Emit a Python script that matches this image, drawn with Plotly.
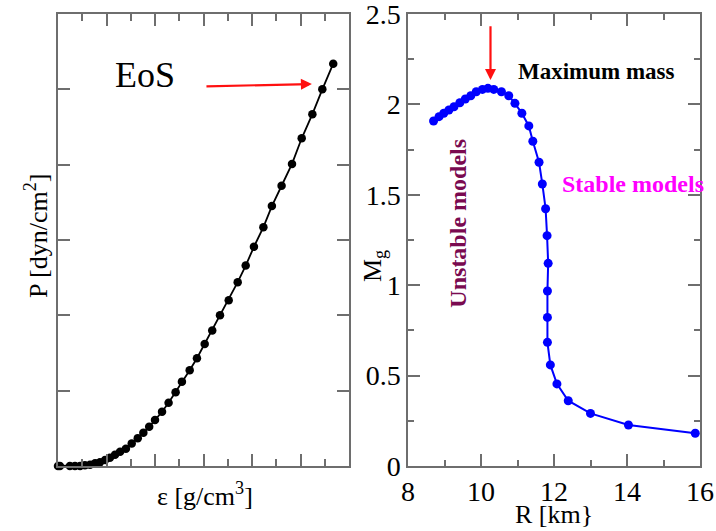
import plotly.graph_objects as go

# Equation of state (arbitrary linear units on both axes)
eos_eps = [0.0, 0.08, 0.49, 0.70, 0.91, 1.11, 1.32, 1.53, 1.73, 1.94, 2.14, 2.35,
           2.56, 2.80, 3.04, 3.29, 3.52, 3.76, 4.00, 4.29, 4.56, 4.85, 5.11, 5.43,
           5.73, 6.05, 6.36, 6.68, 7.04, 7.41, 7.74, 8.08, 8.47, 8.82, 9.22, 9.65,
           10.05, 10.49, 10.90, 11.35]
eos_p = [0.0, 0.0, 0.0, 0.0, 0.0, 0.01, 0.017, 0.036, 0.05, 0.08, 0.11, 0.15,
         0.19, 0.23, 0.30, 0.37, 0.44, 0.52, 0.61, 0.72, 0.84, 0.98, 1.12, 1.27,
         1.43, 1.62, 1.80, 2.00, 2.20, 2.44, 2.66, 2.91, 3.17, 3.45, 3.72, 4.01,
         4.35, 4.67, 5.00, 5.34]

# Mass-radius sequence of stellar models
radius_km = [8.70, 8.85, 8.98, 9.12, 9.26, 9.42, 9.57, 9.72, 9.87, 10.04, 10.19,
             10.35, 10.56, 10.76, 10.93, 11.12, 11.31, 11.42, 11.59, 11.68, 11.77,
             11.81, 11.84, 11.82, 11.82, 11.82, 11.90, 12.08, 12.39, 13.00, 14.04,
             15.87]
mass_g = [1.908, 1.932, 1.951, 1.969, 1.987, 2.009, 2.030, 2.048, 2.070, 2.083,
          2.089, 2.083, 2.070, 2.048, 2.006, 1.951, 1.881, 1.796, 1.680, 1.560,
          1.423, 1.274, 1.121, 0.968, 0.822, 0.684, 0.559, 0.454, 0.361, 0.291,
          0.227, 0.181]

r_ticks = [8, 10, 12, 14, 16]
m_ticks = [0, 0.5, 1, 1.5, 2, 2.5]
m_tick_text = ["0", "0.5", "1", "1.5", "2", "2.5"]

W, H = 716, 531
SERIF = "Liberation Serif"
AXIS_GRAY = "#6e6e6e"


def px(x):
    return x / W


def py(y):
    return 1 - y / H


fig = go.Figure()

fig.add_trace(go.Scatter(
    x=eos_eps, y=eos_p, mode="lines+markers", cliponaxis=False,
    line=dict(color="black", width=1.8),
    marker=dict(color="black", size=8.5),
    xaxis="x", yaxis="y", showlegend=False,
))

fig.add_trace(go.Scatter(
    x=radius_km, y=mass_g, mode="lines+markers", cliponaxis=False,
    line=dict(color="#0000ff", width=2),
    marker=dict(color="#0000ff", size=9),
    xaxis="x2", yaxis="y2", showlegend=False,
))

# empty traces so the short-tick overlay axes get their own subplots
fig.add_trace(go.Scatter(x=[], y=[], xaxis="x3", yaxis="y",
                         showlegend=False, hoverinfo="skip"))
fig.add_trace(go.Scatter(x=[], y=[], xaxis="x4", yaxis="y2",
                         showlegend=False, hoverinfo="skip"))
fig.add_trace(go.Scatter(x=[], y=[], xaxis="x2", yaxis="y3",
                         showlegend=False, hoverinfo="skip"))

common = dict(
    showline=True, linecolor=AXIS_GRAY, linewidth=1.5, mirror="ticks",
    ticks="inside", tickcolor=AXIS_GRAY, tickwidth=1.5,
    showgrid=False, zeroline=False, fixedrange=True, automargin=False,
)

y_dom = [py(466), py(14)]
x1_dom = [px(58), px(349)]
x2_dom = [px(408), px(700)]
label_font = dict(family=SERIF, size=28, color="black")

fig.update_layout(
    template="none",
    width=W, height=H,
    margin=dict(l=0, r=0, t=0, b=0, pad=0, autoexpand=False),
    paper_bgcolor="white", plot_bgcolor="white",
    font=dict(family=SERIF, color="black", size=26),
    showlegend=False,
    # left panel: short ticks every unit, long ticks every two
    xaxis=dict(domain=x1_dom, range=[0, 12], tickmode="linear", tick0=0,
               dtick=1, ticklen=7, showticklabels=False, anchor="y",
               **common),
    xaxis3=dict(range=[0, 12], tickmode="linear", tick0=0, dtick=2,
                ticklen=12, showticklabels=False, anchor="y",
                overlaying="x", **common),
    yaxis=dict(domain=y_dom, range=[0, 6], tickmode="linear", tick0=0,
               dtick=1, ticklen=12, showticklabels=False, anchor="x",
               **common),
    # right panel
    xaxis2=dict(domain=x2_dom, range=[8, 16], tickmode="array",
                tickvals=r_ticks, ticktext=[str(v) for v in r_ticks],
                ticklen=12, anchor="y2", tickfont=label_font,
                ticklabeloverflow="allow", **common),
    xaxis4=dict(range=[8, 16], tickmode="linear", tick0=8, dtick=1,
                ticklen=6, showticklabels=False, anchor="y2",
                overlaying="x2", **common),
    yaxis2=dict(domain=y_dom, range=[0, 2.5], tickmode="array",
                tickvals=m_ticks, ticktext=m_tick_text, ticklen=12,
                anchor="x2", tickfont=label_font,
                ticklabeloverflow="allow", **common),
    yaxis3=dict(range=[0, 2.5], tickmode="linear", tick0=0, dtick=0.25,
                ticklen=6, showticklabels=False, anchor="x2",
                overlaying="y2", **common),
)

centered = dict(xanchor="center", yanchor="middle", showarrow=False)

annotations = [
    # axis titles
    dict(text="P [dyn/cm<sup>2</sup>]", x=px(36), y=py(236), xref="paper",
         yref="paper", textangle=-90, font=dict(family=SERIF, size=26),
         **centered),
    dict(text="ε [g/cm<sup>3</sup>]", x=px(205), y=py(494), xref="paper",
         yref="paper", font=dict(family=SERIF, size=26), **centered),
    dict(text="M<sub>g</sub>", x=px(374), y=py(266), xref="paper",
         yref="paper", textangle=-90, font=dict(family=SERIF, size=26),
         **centered),
    dict(text="R [km}", x=px(554), y=py(514), xref="paper", yref="paper",
         font=dict(family=SERIF, size=26), **centered),
    # EoS label and arrow
    dict(text="EoS", x=px(145), y=py(75), xref="paper", yref="paper",
         font=dict(family=SERIF, size=36), **centered),
    dict(text="", x=10.47, y=5.07, ax=6.06, ay=5.04, xref="x", yref="y",
         axref="x", ayref="y", showarrow=True, arrowhead=2, arrowsize=1,
         arrowwidth=2.2, arrowcolor="#ff1010"),
    # maximum mass arrow and labels
    dict(text="", x=10.26, y=2.135, ax=10.26, ay=2.44, xref="x2", yref="y2",
         axref="x2", ayref="y2", showarrow=True, arrowhead=2, arrowsize=1,
         arrowwidth=2.2, arrowcolor="#ff1010"),
    dict(text="<b>Maximum mass</b>", x=13.17, y=2.18, xref="x2", yref="y2",
         font=dict(family=SERIF, size=23, color="black"), **centered),
    dict(text="<b>Stable models</b>", x=14.16, y=1.56, xref="x2", yref="y2",
         font=dict(family=SERIF, size=24, color="#ff00ff"), **centered),
    dict(text="<b>Unstable models</b>", x=9.36, y=1.344, xref="x2",
         yref="y2", textangle=-90,
         font=dict(family=SERIF, size=24, color="#7a0a50"), **centered),
]
fig.update_layout(annotations=annotations)

fig.write_html("out.html")
